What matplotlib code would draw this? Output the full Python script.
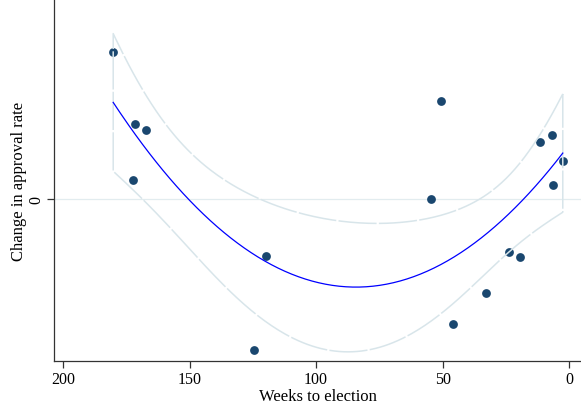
import numpy as np
import matplotlib
matplotlib.use("Agg")
import matplotlib.pyplot as plt

# weeks before the election and change in approval rate
weeks = [180.2, 171.7, 167.3, 172.3, 119.9, 124.4, 50.5, 54.4,
         11.5, 6.8, 2.5, 6.4, 23.8, 19.5, 32.8, 45.8]
change = [14.7, 7.5, 6.9, 1.9, -5.7, -15.1, 9.8, 0.0,
          5.7, 6.4, 3.8, 1.4, -5.3, -5.8, -9.4, -12.5]
xticks = [200, 150, 100, 50, 0]

plt.rcParams['font.family'] = ['Liberation Serif', 'DejaVu Serif']

x = np.array(weeks)
y = np.array(change)

# quadratic fit with a CI band of the mean (like Stata's qfitci)
X = np.column_stack([np.ones_like(x), x, x**2])
beta, res, rank, sv = np.linalg.lstsq(X, y, rcond=None)
n = len(x)
sigma2 = np.sum((y - X @ beta)**2) / (n - 3)
cov = sigma2 * np.linalg.inv(X.T @ X)
t = 1.771  # t(0.95, 13)

xs = np.linspace(x.min(), x.max(), 200)
Xs = np.column_stack([np.ones_like(xs), xs, xs**2])
fit = Xs @ beta
se = np.sqrt(np.einsum('ij,jk,ik->i', Xs, cov, Xs))
lo = fit - t * se
hi = fit + t * se

fig = plt.figure(figsize=(5.81, 4.06), dpi=100)
ax = fig.add_axes([54/581, 44/406, 527/581, 362/406])

ax.axhline(0, color='#e2ecef', lw=0.9, zorder=1)
ax.scatter(x, y, s=40, color='#1a476f', zorder=2, linewidths=0)

ci_x = np.concatenate([xs, xs[::-1], xs[:1]])
ci_y = np.concatenate([hi, lo[::-1], hi[:1]])
ax.plot(ci_x, ci_y, color='#d8e5ea', lw=1.1, ls=(0, (25, 1.5)), zorder=3)
ax.plot(xs, fit, color='#0000ff', lw=0.9, zorder=4)

ax.set_xlim(203.6, -4.7)
ax.set_ylim(-16.2, 20)
ax.set_xticks(xticks)
ax.set_yticks([0])
ax.set_yticklabels(['0'], rotation=90, va='center')

for s in ['top', 'right']:
    ax.spines[s].set_visible(False)
for s in ['left', 'bottom']:
    ax.spines[s].set_color('#333333')
    ax.spines[s].set_linewidth(0.9)
ax.tick_params(direction='out', length=5, width=0.9, color='#333333',
               labelsize=11.5, pad=2)

ax.set_xlabel('Weeks to election', fontsize=12, labelpad=1)
ax.set_ylabel('Change in approval rate', fontsize=12, labelpad=1)

fig.savefig('out.png', dpi=100)
